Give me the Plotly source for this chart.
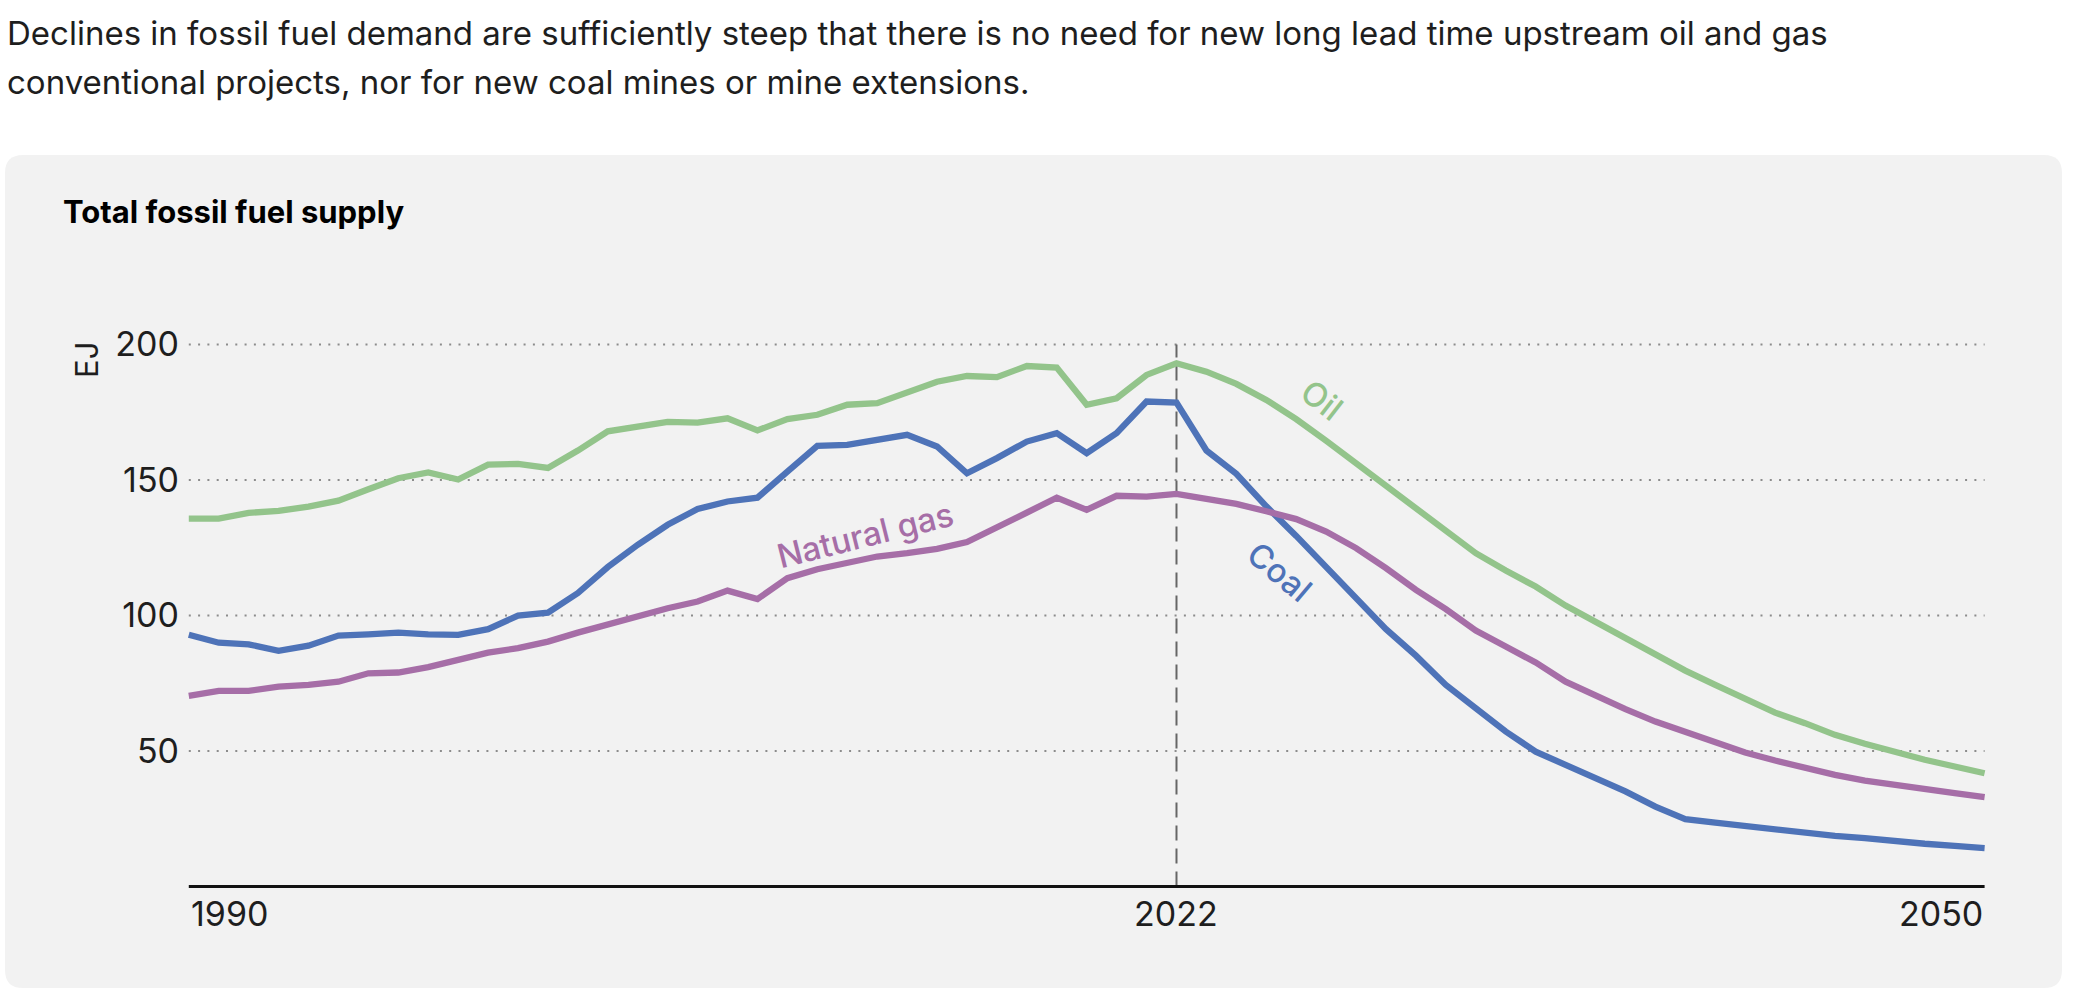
import plotly.graph_objects as go

# ---------------- data ----------------
point_index = list(range(61))          # 61 annual points on the axis
x_tick_index = [0, 33, 60]
x_tick_labels = ["1990", "2022", "2050"]
y_tick_values = [50, 100, 150, 200]
marker_index = 33                      # dashed "2022" marker

oil = [135.8, 135.8, 137.9, 138.6, 140.2, 142.4, 146.6, 150.7, 152.8, 150.2,
       155.7, 156.0, 154.5, 160.9, 168.0, 170.0, 171.5, 171.2, 172.8, 168.3,
       172.5, 174.1, 177.8, 178.4, 182.1, 186.3, 188.4, 188.0, 192.1, 191.5,
       177.8, 180.2, 188.8, 193.1, 190.0, 185.5, 179.6, 172.5, 164.5, 156.2,
       147.9, 139.6, 131.3, 123.0, 116.6, 110.7, 103.7, 97.6, 91.7, 85.5,
       79.7, 74.4, 69.1, 64.2, 60.3, 56.0, 52.7, 49.5, 46.8, 44.3, 41.8]

coal = [92.9, 90.0, 89.4, 87.0, 88.9, 92.6, 93.1, 93.7, 93.1, 92.9,
        95.0, 100.0, 101.1, 108.3, 117.9, 126.1, 133.5, 139.3, 142.1, 143.5,
        153.1, 162.6, 163.0, 165.1, 166.7, 162.4, 152.5, 158.1, 164.2, 167.3,
        159.9, 167.3, 179.0, 178.6, 160.9, 152.3, 140.3, 129.4, 117.9, 107.0,
        95.0, 85.2, 74.4, 65.8, 57.2, 49.8, 44.9, 40.0, 35.1, 29.5,
        24.9, 23.6, 22.4, 20.9, 19.9, 18.7, 17.9, 16.6, 15.8, 15.0, 14.2]

gas = [70.4, 72.2, 72.2, 73.8, 74.4, 75.6, 78.7, 79.0, 81.0, 83.4,
       86.3, 88.0, 90.4, 93.7, 96.8, 99.6, 102.7, 105.2, 109.2, 106.1,
       113.8, 117.1, 119.6, 121.8, 123.0, 124.6, 127.1, 132.3, 138.0, 143.5,
       139.0, 144.2, 143.9, 144.9, 143.3, 141.2, 138.5, 135.6, 131.0, 124.9,
       117.5, 109.5, 102.4, 94.5, 88.6, 82.7, 75.6, 70.4, 65.5, 60.9,
       56.9, 53.1, 49.5, 46.5, 43.7, 41.2, 39.1, 37.4, 35.9, 34.5, 33.0]

series_names = ["Oil", "Coal", "Natural gas"]
series_colors = ["#93c48b", "#4e73b8", "#a66ea7"]

subtitle_lines = [
    "Declines in fossil fuel demand are sufficiently steep that there is no need for new long lead time upstream oil and gas",
    "conventional projects, nor for new coal mines or mine extensions.",
]
chart_title = "Total fossil fuel supply"
y_unit = "EJ"

# ---------------- layout geometry ----------------
FIG_W, FIG_H = 2074, 990
L, R, T, B = 184, 85, 323, 98
W = FIG_W - L - R
H = FIG_H - T - B
FONT = "Inter"
TXT = "#1e1e1e"


def px_x(px):
    return (px - L) / W


def px_y(py):
    return (T + H - py) / H


fig = go.Figure()

for name, vals, col in zip(series_names, [oil, coal, gas], series_colors):
    fig.add_trace(go.Scatter(
        x=point_index, y=vals, mode="lines", name=name,
        line=dict(color=col, width=6.3), showlegend=False,
        hoverinfo="skip",
    ))

shapes = []
# rounded grey panel
x0p, x1p = px_x(5), px_x(2062)
ytp, ybp = px_y(155), px_y(988)
rx, ry = 18 / W, 18 / H
panel = (f"M {x0p+rx},{ytp} L {x1p-rx},{ytp} Q {x1p},{ytp} {x1p},{ytp-ry} "
         f"L {x1p},{ybp+ry} Q {x1p},{ybp} {x1p-rx},{ybp} "
         f"L {x0p+rx},{ybp} Q {x0p},{ybp} {x0p},{ybp+ry} "
         f"L {x0p},{ytp-ry} Q {x0p},{ytp} {x0p+rx},{ytp} Z")
shapes.append(dict(type="path", xref="paper", yref="paper", path=panel,
                   fillcolor="#f2f2f2", line=dict(width=0), layer="below"))
# dotted gridlines
for v in y_tick_values:
    shapes.append(dict(type="line", xref="x", yref="y",
                       x0=point_index[0], x1=point_index[-1], y0=v, y1=v,
                       line=dict(color="#8c8c8c", width=2, dash="2px,7.3px"),
                       layer="below"))
# baseline
shapes.append(dict(type="line", xref="x", yref="y",
                   x0=point_index[0], x1=point_index[-1], y0=0, y1=0,
                   line=dict(color="#111111", width=3), layer="above"))
# dashed marker line
shapes.append(dict(type="line", xref="x", yref="y",
                   x0=marker_index, x1=marker_index, y0=0, y1=max(y_tick_values),
                   line=dict(color="#666666", width=2, dash="15px,8px"),
                   layer="below"))

annotations = []
for i, line in enumerate(subtitle_lines):
    annotations.append(dict(text=line, xref="paper", yref="paper",
                            x=px_x(5), y=px_y(33 + 49 * i), xanchor="left",
                            yanchor="middle", showarrow=False,
                            font=dict(family=FONT, size=33, color=TXT)))
annotations.append(dict(text=f"<b>{chart_title}</b>", xref="paper", yref="paper",
                        x=px_x(61), y=px_y(211), xanchor="left", yanchor="middle",
                        showarrow=False,
                        font=dict(family=FONT, size=31, color="#000000")))
annotations.append(dict(text=y_unit, xref="paper", yref="paper",
                        x=px_x(86), y=px_y(360), xanchor="center", yanchor="middle",
                        textangle=-90, showarrow=False,
                        font=dict(family=FONT, size=31, color=TXT)))
anchors = ["left", "center", "right"]
for xi, lab, anc in zip(x_tick_index, x_tick_labels, anchors):
    annotations.append(dict(text=lab, xref="x", yref="paper", x=xi, y=px_y(913),
                            xanchor=anc, yanchor="middle", showarrow=False,
                            font=dict(family=FONT, size=34, color=TXT)))
# series labels
label_pos = {"Oil": (37.86, 179.6, 38), "Coal": (36.46, 116.2, 40),
             "Natural gas": (22.6, 129.8, -14)}
for name, col in zip(series_names, series_colors):
    lx, ly, ang = label_pos[name]
    annotations.append(dict(text=name, xref="x", yref="y", x=lx, y=ly,
                            xanchor="center", yanchor="middle", textangle=ang,
                            showarrow=False,
                            font=dict(family=FONT, size=33, color=col, weight=500)))

fig.update_layout(
    width=FIG_W, height=FIG_H,
    margin=dict(l=L, r=R, t=T, b=B, autoexpand=False),
    paper_bgcolor="#ffffff", plot_bgcolor="rgba(0,0,0,0)",
    shapes=shapes, annotations=annotations,
    xaxis=dict(range=[-0.160, 60.147], showgrid=False, zeroline=False,
               showticklabels=False, showline=False, ticks=""),
    yaxis=dict(range=[-2, 207.96], showgrid=False, zeroline=False,
               tickvals=y_tick_values, ticktext=[str(v) for v in y_tick_values],
               ticks="", showline=False, ticklabelstandoff=4,
               tickfont=dict(family=FONT, size=34, color=TXT)),
)

fig.write_html("out.html")
